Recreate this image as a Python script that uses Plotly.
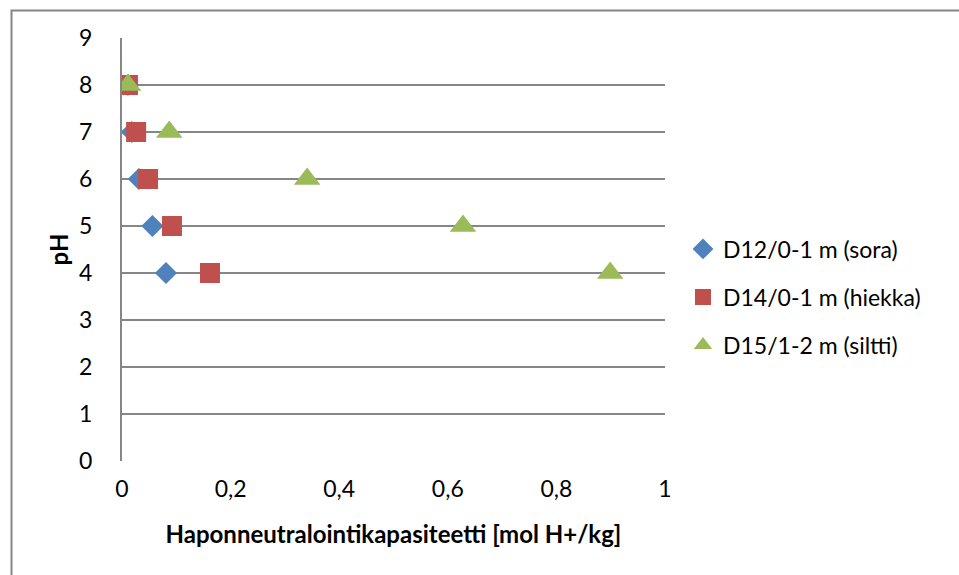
import plotly.graph_objects as go

ph = [8, 7, 6, 5, 4]
d12 = [0.011, 0.018, 0.031, 0.056, 0.081]
d14 = [0.011, 0.026, 0.048, 0.092, 0.162]
d15 = [0.011, 0.087, 0.341, 0.628, 0.899]
names = ["D12/0-1 m (sora)", "D14/0-1 m (hiekka)", "D15/1-2 m (siltti)"]
colors = ["#4F81BD", "#C0504D", "#9BBB59"]
symbols = ["diamond", "square", "triangle-up"]
sizes = [17, 20, 23]

font = "Lato, Open Sans, sans-serif"
fig = go.Figure()
legs = ["legend", "legend2", "legend3"]
for xs, n, c, s, sz, lg in zip([d12, d14, d15], names, colors, symbols, sizes, legs):
    fig.add_trace(go.Scatter(x=xs, y=ph, mode="markers", name=n, legend=lg,
                             marker=dict(color=c, symbol=s, size=sz, line=dict(width=0))))

L, R, T, B = 122, 294, 38, 114
W, H = 959, 575
pw, ph_ = W - L - R, H - T - B
def px2x(p):
    return (p - L) / pw
def py2y(p):
    return (H - B - p) / ph_

FS = 23
legend_common = dict(font=dict(family=font, size=FS, color="#000"), bgcolor="rgba(0,0,0,0)",
                     xanchor="left", yanchor="middle", itemwidth=30, tracegroupgap=0)
lay = {}
for lg, yy in zip(legs, [249, 297, 345]):
    lay[lg] = dict(legend_common, x=px2x(683), y=py2y(yy))

fig.update_layout(
    width=W, height=H, margin=dict(l=L, r=R, t=T, b=B),
    paper_bgcolor="white", plot_bgcolor="white",
    separators=", ",
    font=dict(family=font, size=FS, color="#000"),
    showlegend=True,
    xaxis=dict(range=[0, 1], tickvals=[0, 0.2, 0.4, 0.6, 0.8, 1], showgrid=False, zeroline=False,
               showline=False, ticks="", ticklabelstandoff=12,
               title=dict(text="<b>Haponneutralointikapasiteetti [mol H+/kg]</b>", standoff=25,
                          font=dict(size=24))),
    yaxis=dict(range=[0, 9], dtick=1, showgrid=True, gridcolor="#868686", gridwidth=2,
               zeroline=False, showline=True, linecolor="#868686", linewidth=2, ticks="",
               ticklabelstandoff=23,
               title=dict(text="<b>pH</b>", standoff=4, font=dict(size=24))),
    shapes=[dict(type="rect", xref="paper", yref="paper", x0=px2x(11.5), x1=px2x(975),
                 y0=py2y(590), y1=py2y(10.5), line=dict(color="#868686", width=2), layer="below")],
    **lay,
)
fig.write_html("out.html")
